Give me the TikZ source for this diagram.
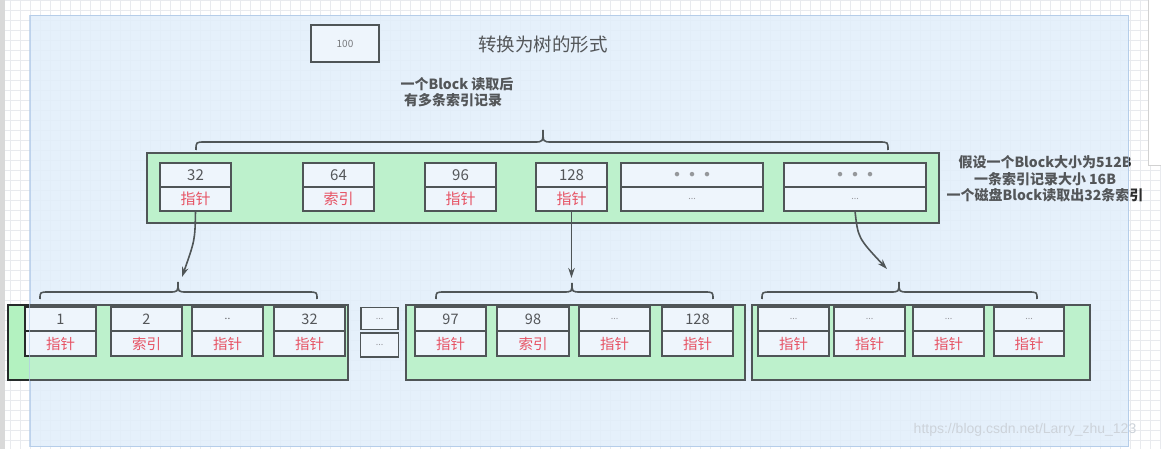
\documentclass[tikz,border=0pt]{standalone}
\usepackage{fontspec}
\setmainfont{Noto Sans CJK SC}
\newfontfamily\wmfont{Liberation Sans}
\usetikzlibrary{arrows.meta}
\definecolor{bluebg}{HTML}{E2EEFB}
\definecolor{blueline}{HTML}{B3CBE8}
\definecolor{greenf}{HTML}{B3F2C0}
\definecolor{cellf}{HTML}{F2F7FD}
\definecolor{linec}{HTML}{262B2A}
\definecolor{txt}{HTML}{2C2C2C}
\definecolor{redt}{HTML}{E8283A}
\definecolor{gridc}{HTML}{E8EAEE}
\definecolor{wmc}{HTML}{CDD3DA}
\newcommand\mkcell[8]{%
  \node[cellbox, minimum width=#3pt, minimum height=#5pt] (#1u) at (#2,#4) {#6};
  \node[cellbox, minimum width=#3pt, minimum height=#5pt, anchor=north, #8] (#1l) at (#1u.south) {#7};}
\newcommand\cbrace[6]{%
  \draw[bracel] (#1,#6) .. controls (#1,#5) .. (#1+9,#5) -- (#2-9,#5)
    .. controls (#2,#5) .. (#2,#4) .. controls (#2,#5) .. (#2+9,#5)
    -- (#3-9,#5) .. controls (#3,#5) .. (#3,#6);}
\newcommand\gdots{\textcolor{gray}{\fontsize{5}{5}\selectfont ●\hspace{10pt}●\hspace{10pt}●}}
\newcommand\sdots{\textcolor{gray}{\fontsize{9}{9}\selectfont ...}}
\begin{document}
\begin{tikzpicture}[x=1pt,y=-1pt,
  container/.style={draw=linec, fill=greenf, line width=2pt, outer sep=0pt, inner sep=0pt},
  cellbox/.style={draw=linec, fill=cellf, line width=1.9pt, outer sep=0pt, inner sep=0pt, text=txt, font=\fontsize{15}{15}\selectfont},
  redtxt/.style={text=redt},
  bracel/.style={draw=linec, line width=1.6pt},
  arr/.style={draw=linec, line width=1.6pt, -{Stealth[length=10pt,width=6.5pt]}},
  lab/.style={text=txt, font=\fontsize{14}{16.5}\selectfont\bfseries, align=center, inner sep=0pt}]
\useasboundingbox (0,0) rectangle (1161,449);
\fill[white] (0,0) rectangle (1161,449);
\foreach \i in {0,10,...,1160} \draw[gridc, line width=0.6pt] (\i,0) -- (\i,449);
\foreach \j in {0,10,...,440} \draw[gridc, line width=0.6pt] (0,\j) -- (1161,\j);
\fill[black!15] (0,0) rectangle (5,449);
% blue region
\node[draw=blueline, fill=bluebg, fill opacity=0.8, line width=1pt, minimum width=1098pt, minimum height=430pt, inner sep=0pt] (region) at (579,231) {};
% right panel
\node[draw=black!18, fill=white, line width=0.8pt, minimum width=20pt, minimum height=170pt, inner sep=0pt, anchor=north west] (panel) at (1148,-5) {};
% title
\node[draw=linec, line width=2pt, fill=cellf, minimum width=68pt, minimum height=37pt, inner sep=0pt, text=black!65, font=\fontsize{10}{10}\selectfont] (hundred) at (345,43.5) {100};
\node[text=txt, font=\fontsize{18.5}{18.5}\selectfont, inner sep=0pt] (title) at (543,44) {转换为树的形式};
\node[lab] (note1) at (457,92) {一个Block 读取后\\\hspace*{-8pt}有多条索引记录};
\node[lab] (note2) at (1045,179) {假设一个Block大小为512B\\一条索引记录大小 16B\\一个磁盘Block读取出32条索引};
% braces
\cbrace{196}{543}{888}{130}{142}{150}
\cbrace{40}{178}{317}{282}{292}{299}
\cbrace{436}{572}{713}{283}{292}{299}
\cbrace{762}{899}{1037}{282}{292}{299}
% top container
\node[container, minimum width=792pt, minimum height=70pt] (topc) at (543,188) {};
\mkcell{t1}{195.5}{71}{175}{24}{32}{指针}{redtxt}
\mkcell{t2}{338.5}{71}{175}{24}{64}{索引}{redtxt}
\mkcell{t3}{460.5}{71}{175}{24}{96}{指针}{redtxt}
\mkcell{t4}{571.5}{71}{175}{24}{128}{指针}{redtxt}
\mkcell{t5}{692}{142}{175}{24}{\gdots}{\sdots}{}
\mkcell{t6}{855}{142}{175}{24}{\gdots}{\sdots}{}
% lower containers
\node[container, minimum width=340pt, minimum height=75pt] (ca) at (178,342.5) {};
\node[container, minimum width=339pt, minimum height=75pt] (cb) at (575.5,342.5) {};
\node[container, minimum width=338pt, minimum height=75pt] (cc) at (921,342.5) {};
\tikzset{cellbox/.append style={font=\fontsize{14.5}{14.5}\selectfont}}
\mkcell{a1}{60.5}{71}{319}{24.5}{1}{指针}{redtxt}
\mkcell{a2}{146.5}{71}{319}{24.5}{2}{索引}{redtxt}
\mkcell{a3}{227.5}{71}{319}{24.5}{\fontsize{10}{10}\selectfont ..}{指针}{redtxt}
\mkcell{a4}{309.5}{71}{319}{24.5}{32}{指针}{redtxt}
\node[cellbox, minimum width=37pt, minimum height=22pt] (m1) at (379.5,318.5) {\sdots};
\node[cellbox, minimum width=38pt, minimum height=24pt] (m2) at (379.5,345) {\sdots};
\mkcell{b1}{450.5}{71}{319}{24.5}{97}{指针}{redtxt}
\mkcell{b2}{533}{72}{319}{24.5}{98}{索引}{redtxt}
\mkcell{b3}{614.5}{71}{319}{24.5}{\sdots}{指针}{redtxt}
\mkcell{b4}{697.5}{71}{319}{24.5}{128}{指针}{redtxt}
\mkcell{c1}{793.5}{71}{319}{24.5}{\sdots}{指针}{redtxt}
\mkcell{c2}{869.5}{71}{319}{24.5}{\sdots}{指针}{redtxt}
\mkcell{c3}{948.5}{71}{319}{24.5}{\sdots}{指针}{redtxt}
\mkcell{c4}{1029}{70}{319}{24.5}{\sdots}{指针}{redtxt}
% arrows
\coordinate (e1) at (182,277);
\coordinate (e2) at (571.5,278);
\coordinate (e3) at (887,269);
\draw[arr] (t1l.south) .. controls (195,240) .. (e1);
\draw[arr] (t4l.south) -- (e2);
\draw[arr] (t6l.south) .. controls (858,238) .. (e3);
% overlay tint of the blue region
\fill[bluebg, opacity=0.22] (region.north west) rectangle (region.south east);
\draw[blueline, line width=1pt, opacity=0.7] (region.north west) rectangle (region.south east);
\node[text=wmc, font=\wmfont\fontsize{14}{14}\selectfont, inner sep=0pt] (wm) at (1025,430) {https://blog.csdn.net/Larry\_zhu\_123};
\end{tikzpicture}
\end{document}
